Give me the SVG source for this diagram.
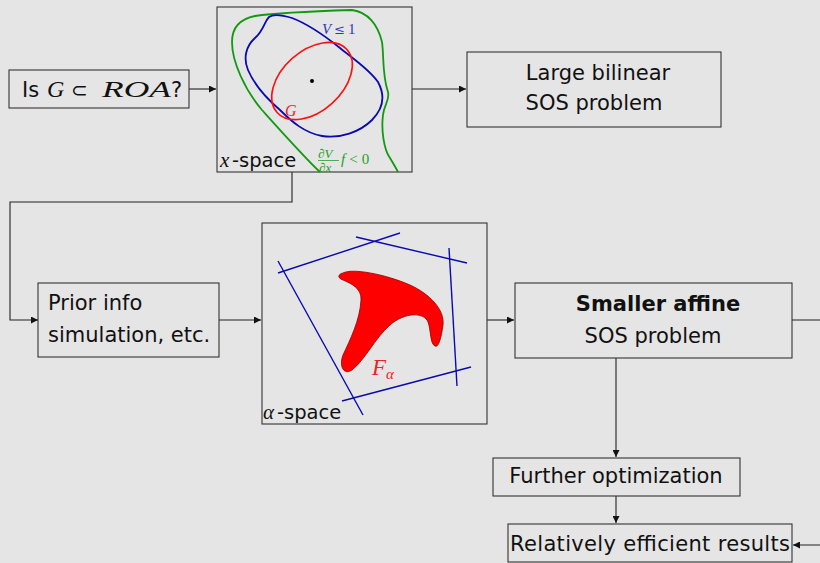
<svg xmlns="http://www.w3.org/2000/svg" width="820" height="563" viewBox="0 0 820 563">
<defs>
<style>
.box{fill:none;stroke:#333;stroke-width:1.1}
.con{fill:none;stroke:#222;stroke-width:1.1}
.t{font-family:"DejaVu Sans","Liberation Sans",sans-serif;font-size:21px;fill:#111}
.m{font-family:"Liberation Serif","DejaVu Serif",serif;font-style:italic}
.bl{fill:none;stroke:#0a0ab0;stroke-width:1.4}
</style>
<marker id="ar" viewBox="0 0 10 10" refX="10" refY="5" markerWidth="9" markerHeight="7" markerUnits="userSpaceOnUse" orient="auto">
<path d="M0,0 L10,5 L0,10 Z" fill="#111"/>
</marker>
</defs>
<rect width="820" height="563" fill="#e5e5e5"/>

<g id="connectors">
<path class="con" d="M189,89 H216" marker-end="url(#ar)"/>
<path class="con" d="M412,89 H466" marker-end="url(#ar)"/>
<path class="con" d="M292,172 V202 H10 V320 H38" marker-end="url(#ar)"/>
<path class="con" d="M219,320 H261" marker-end="url(#ar)"/>
<path class="con" d="M487,320 H514" marker-end="url(#ar)"/>
<path class="con" d="M792,320 H825 V545 H793" marker-end="url(#ar)"/>
<path class="con" d="M616,358 V457" marker-end="url(#ar)"/>
<path class="con" d="M616,496 V523" marker-end="url(#ar)"/>
</g>

<g id="is-g">
<rect class="box" x="9" y="70" width="180" height="38"/>
<text class="t" y="97"><tspan x="22">Is</tspan><tspan class="m" x="47" font-size="24">G</tspan><tspan x="71" font-family="DejaVu Sans" font-size="20">⊂</tspan><tspan class="m" x="102" font-size="24" textLength="69" lengthAdjust="spacingAndGlyphs">ROA</tspan><tspan x="171">?</tspan></text>
</g>

<g id="x-space">
<rect class="box" x="217" y="7" width="195" height="165"/>
<path d="M320,172 C305,158 280,130 262,110 C245,90 232,62 232,42 C232,28 240,19 255,16 C275,13 320,11 352,10 C368,12 378,25 382,42 C384,55 382,75 388,92 C390,100 384,105 383,115 C381,130 384,150 390,158 C393,163 396,168 398,172" fill="none" stroke="#119911" stroke-width="1.8"/>
<path d="M269,17 C264,22 264,30 255,38 C246,46 243,58 248,70 C254,84 266,98 280,110 C292,122 305,133 322,136 C340,139 360,132 372,120 C384,108 385,95 378,82 C370,70 355,60 340,48 C325,36 308,24 292,18 C282,15 273,14 269,17 Z" fill="none" stroke="#0a0ab0" stroke-width="1.8"/>
<ellipse cx="312" cy="81" rx="47" ry="30" transform="rotate(-42 312 81)" fill="none" stroke="#ff1010" stroke-width="1.6"/>
<circle cx="312" cy="81" r="2" fill="#000"/>
<text class="m" x="322" y="34" font-size="15" fill="#3333bb">V<tspan font-style="normal" font-family="DejaVu Serif" font-size="13" dx="3">≤</tspan><tspan font-style="normal" dx="3">1</tspan></text>
<text class="m" x="285" y="116" font-size="16" fill="#ee2222">G</text>
<g fill="#22a022" font-family="Liberation Serif,serif" font-style="italic">
<text x="318" y="158" font-size="13">∂V</text>
<line x1="318" y1="160.5" x2="339" y2="160.5" stroke="#22a022" stroke-width="0.8"/>
<text x="319" y="172" font-size="13">∂x</text>
<text x="341" y="164" font-size="15">f<tspan font-style="normal" dx="4">&lt;</tspan><tspan font-style="normal" dx="4">0</tspan></text>
</g>
<text y="167" font-size="21" fill="#111"><tspan class="m" x="220">x</tspan><tspan x="232" font-family="DejaVu Sans,sans-serif" font-size="19.5">-space</tspan></text>
</g>

<g id="large-bilinear">
<rect class="box" x="467" y="52" width="254" height="75"/>
<text class="t" x="598" y="80" text-anchor="middle">Large bilinear</text>
<text class="t" x="594" y="110" text-anchor="middle">SOS problem</text>
</g>

<g id="prior-info">
<rect class="box" x="38" y="283" width="181" height="74"/>
<text class="t" x="48" y="310">Prior info</text>
<text class="t" x="48" y="342">simulation, etc.</text>
</g>

<g id="alpha-space">
<rect class="box" x="262" y="223" width="225" height="201"/>
<line class="bl" x1="278" y1="273" x2="400" y2="233"/>
<line class="bl" x1="356" y1="237" x2="467" y2="263"/>
<line class="bl" x1="449" y1="248" x2="457" y2="386"/>
<line class="bl" x1="342" y1="401" x2="471" y2="367"/>
<line class="bl" x1="278" y1="261" x2="363" y2="415"/>
<path d="M343,273 C352,268 385,274 410,285 C430,294 445,310 443,325 C441,340 438,348 435,346 C430,344 431,330 428,322 C424,312 405,312 390,325 C375,338 365,360 352,370 C343,376 339,365 343,355 C350,340 360,320 361,300 C362,288 350,283 343,280 C337,278 338,274 343,273 Z" fill="#ff0000" stroke="#900000" stroke-width="0.8"/>
<text class="m" x="372" y="375" font-size="23" fill="#ee2222">F<tspan font-size="15" dy="4">α</tspan></text>
<text y="419" font-size="21" fill="#111"><tspan class="m" x="263">α</tspan><tspan x="277" font-family="DejaVu Sans,sans-serif" font-size="19.5">-space</tspan></text>
</g>

<g id="smaller-affine">
<rect class="box" x="515" y="283" width="277" height="75"/>
<text class="t" x="658" y="311" text-anchor="middle" font-weight="bold">Smaller affine</text>
<text class="t" x="653" y="343" text-anchor="middle">SOS problem</text>
</g>

<g id="further">
<rect class="box" x="493" y="458" width="247" height="38"/>
<text class="t" x="616" y="483" text-anchor="middle">Further optimization</text>
</g>

<g id="results">
<rect class="box" x="508" y="524" width="284" height="38"/>
<text class="t" x="510" y="551" textLength="280" lengthAdjust="spacing">Relatively efficient results</text>
</g>
</svg>
